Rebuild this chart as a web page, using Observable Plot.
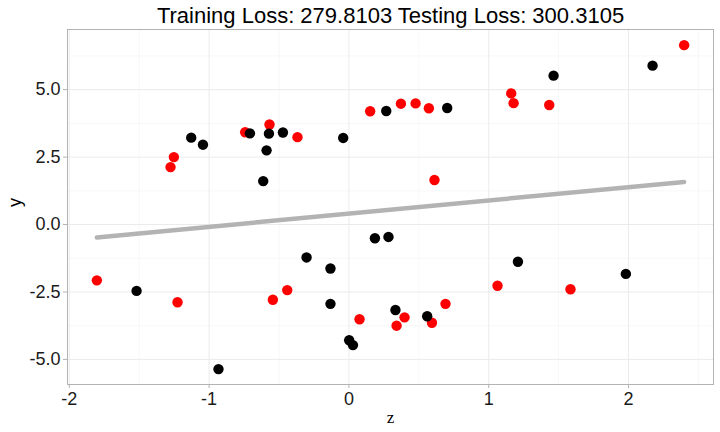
<!DOCTYPE html>
<html>
<head>
<meta charset="utf-8">
<script src="https://cdn.jsdelivr.net/npm/d3@7"></script>
<script src="https://cdn.jsdelivr.net/npm/@observablehq/plot@0.6"></script>
<style>
  html, body { margin: 0; padding: 0; background: #fff; }
  #chart { width: 720px; height: 432px; }
</style>
</head>
<body>
<div id="chart"></div>
<script>
const titleText = "Training Loss: 279.8103 Testing Loss: 300.3105";

// Training points (black)
const trainZ = [-1.128, -1.044, -0.708, -0.572, -0.589, -0.613, -0.472, -0.041, 0.267, 0.703, 1.464, 2.172,
                -1.519, -0.933, -0.303, -0.132, -0.132, 0.002, 0.029, 0.186, 0.283, 0.333, 0.560, 1.209, 1.981];
const trainY = [3.22, 2.96, 3.38, 3.37, 2.75, 1.61, 3.41, 3.21, 4.21, 4.32, 5.52, 5.89,
                -2.46, -5.36, -1.22, -1.63, -2.94, -4.29, -4.47, -0.51, -0.46, -3.17, -3.40, -1.38, -1.83];

// Testing points (red)
const testZ = [-1.276, -1.252, -0.742, -0.568, -0.368, 0.152, 0.372, 0.477, 0.572, 0.612, 1.161, 1.178, 1.433, 2.398,
               -1.803, -1.226, -0.544, -0.441, 0.076, 0.341, 0.398, 0.594, 0.691, 1.063, 1.585];
const testY = [2.13, 2.50, 3.42, 3.71, 3.24, 4.20, 4.48, 4.49, 4.31, 1.65, 4.86, 4.50, 4.43, 6.65,
               -2.07, -2.88, -2.79, -2.43, -3.51, -3.75, -3.44, -3.64, -2.94, -2.27, -2.40];

// Fitted line
const lineZ = [-1.803, 2.398];
const lineY = [-0.48, 1.58];

// Axis ticks / grid
const xTicks = [-2, -1, 0, 1, 2];
const yTicks = [-5, -2.5, 0, 2.5, 5];
const xMinor = [-1.5, -0.5, 0.5, 1.5, 2.5];
const yMinor = [-3.75, -1.25, 1.25, 3.75, 6.25];

const train = trainZ.map((z, i) => ({z, y: trainY[i]}));
const test = testZ.map((z, i) => ({z, y: testY[i]}));
const line = lineZ.map((z, i) => ({z, y: lineY[i]}));

const chart = Plot.plot({
  width: 720,
  height: 432,
  marginLeft: 67,
  marginRight: 7,
  marginTop: 29,
  marginBottom: 48,
  style: { fontFamily: "'Liberation Sans', Arial, sans-serif", background: "#fff", overflow: "visible" },
  x: { domain: [-2.013, 2.608], ticks: xTicks, label: null },
  y: { domain: [-5.93, 7.23], ticks: yTicks, label: null },
  marks: [
    Plot.ruleX(xMinor, { stroke: "#f2f2f2", strokeWidth: 0.6 }),
    Plot.ruleY(yMinor, { stroke: "#f2f2f2", strokeWidth: 0.6 }),
    Plot.ruleX(xTicks, { stroke: "#ebebeb", strokeWidth: 1 }),
    Plot.ruleY(yTicks, { stroke: "#ebebeb", strokeWidth: 1 }),
    Plot.frame({ stroke: "#b3b3b3", strokeWidth: 1 }),
    Plot.axisX({ ticks: xTicks, tickSize: 4, tickPadding: 4, fontSize: 18, stroke: "#b3b3b3", color: "#1a1a1a", label: null, tickFormat: d => String(d) }),
    Plot.axisY({ ticks: yTicks, tickSize: 4, tickPadding: 3, fontSize: 18, stroke: "#b3b3b3", color: "#1a1a1a", label: null, tickFormat: d => d.toFixed(1) }),
    Plot.line(line, { x: "z", y: "y", stroke: "#b3b3b3", strokeWidth: 4.5 }),
    Plot.dot(test, { x: "z", y: "y", r: 5.2, fill: "#ff0000", stroke: "none" }),
    Plot.dot(train, { x: "z", y: "y", r: 5.2, fill: "#000000", stroke: "none" }),
    Plot.text([titleText], { frameAnchor: "top", dy: -7, lineAnchor: "bottom", fontSize: 22, fill: "#000", textAnchor: "middle" }),
    Plot.text(["z"], { frameAnchor: "bottom", dy: 38, fontSize: 17, fill: "#000", fontFamily: "'Liberation Serif', serif" }),
    Plot.text(["y"], { frameAnchor: "left", dx: -52, rotate: -90, fontSize: 18, fill: "#000" })
  ]
});
document.getElementById("chart").appendChild(chart);
</script>
</body>
</html>
